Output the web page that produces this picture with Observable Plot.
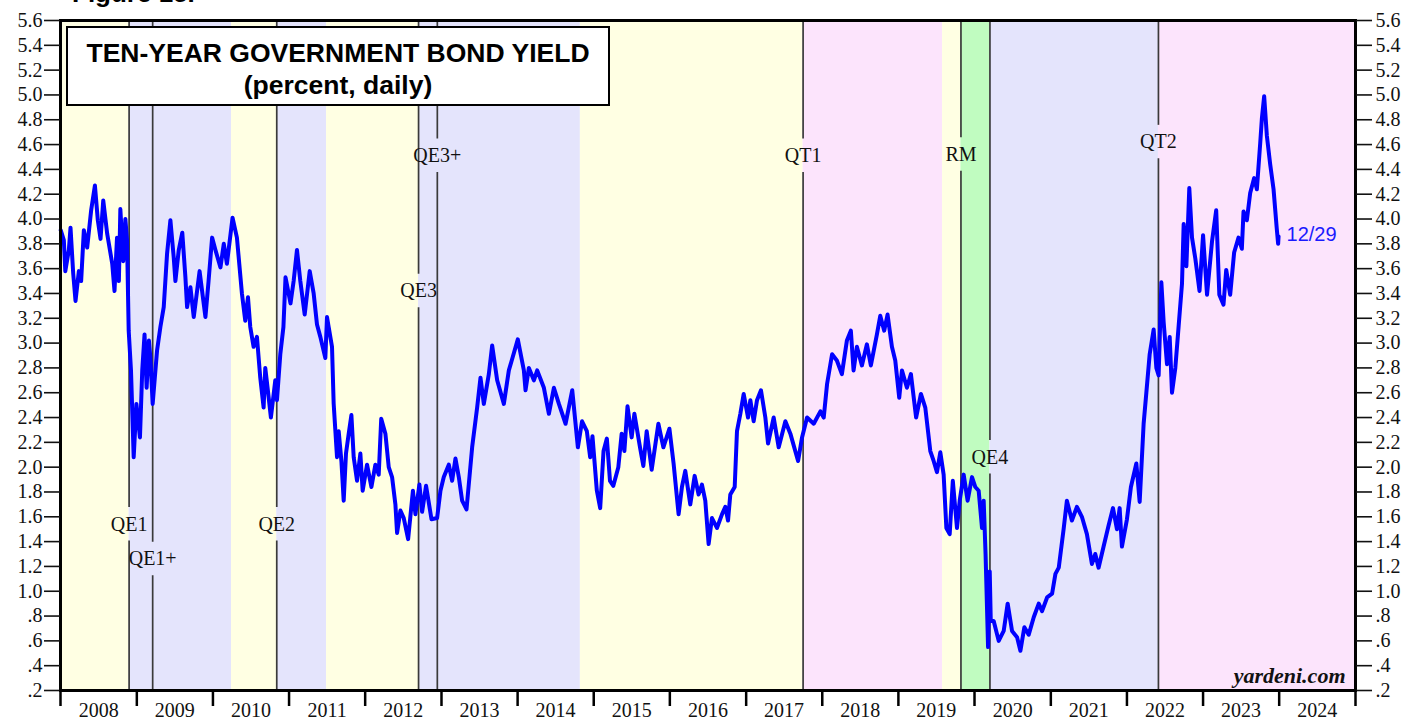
<!DOCTYPE html>
<html><head><meta charset="utf-8">
<script src="https://cdn.jsdelivr.net/npm/d3@7"></script>
<script src="https://cdn.jsdelivr.net/npm/@observablehq/plot@0.6"></script>
<style>
html,body{margin:0;padding:0;background:#fff;overflow:hidden}
#wrap{position:relative;width:1408px;height:719px}
#fig{position:absolute;left:72px;top:-20px;font:bold 26px "Liberation Sans",Arial,sans-serif;line-height:26px;white-space:nowrap;color:#000}
#titlebox{position:absolute;left:66px;top:26px;width:540px;height:67px;padding-top:9px;border:2px solid #000;background:#fff;font:bold 26.5px "Liberation Sans",Arial,sans-serif;text-align:center;line-height:32px;color:#000}
</style></head>
<body><div id="wrap"><div id="chart"></div><div id="fig">Figure 15.</div><div id="titlebox">TEN-YEAR GOVERNMENT BOND YIELD<br>(percent, daily)</div></div>
<script>
const dates = [
"2008-01-02","2008-01-17","2008-01-24","2008-02-10","2008-02-18","2008-03-02","2008-03-13","2008-03-29","2008-04-09","2008-04-22",
"2008-05-08","2008-05-27","2008-06-14","2008-06-28","2008-07-11","2008-07-24","2008-08-12","2008-09-05","2008-09-16","2008-09-28",
"2008-10-07","2008-10-14","2008-10-28","2008-11-07","2008-11-15","2008-11-23","2008-12-04","2008-12-17","2008-12-30","2009-01-16",
"2009-01-27","2009-02-07","2009-02-17","2009-02-28","2009-03-07","2009-03-18","2009-04-08","2009-04-24","2009-05-10","2009-05-26",
"2009-06-11","2009-06-27","2009-07-05","2009-07-21","2009-08-07","2009-08-22","2009-08-30","2009-09-15","2009-10-01","2009-10-29",
"2009-11-10","2009-11-26","2009-12-11","2009-12-28","2010-01-13","2010-02-06","2010-02-22","2010-03-09","2010-04-05","2010-04-26",
"2010-05-20","2010-06-05","2010-06-18","2010-06-29","2010-07-15","2010-07-31","2010-08-16","2010-09-01","2010-09-09","2010-09-20",
"2010-10-06","2010-10-27","2010-11-04","2010-11-20","2010-12-05","2010-12-15","2011-01-08","2011-01-23","2011-02-08","2011-02-24",
"2011-03-17","2011-04-10","2011-04-29","2011-05-15","2011-05-31","2011-06-24","2011-07-02","2011-07-10","2011-07-26","2011-08-03",
"2011-08-19","2011-08-27","2011-09-09","2011-09-20","2011-10-01","2011-10-14","2011-10-27","2011-11-07","2011-11-23","2011-12-09",
"2011-12-20","2012-01-10","2012-01-31","2012-02-19","2012-03-06","2012-03-18","2012-04-07","2012-04-23","2012-05-09","2012-05-25",
"2012-06-02","2012-06-18","2012-07-04","2012-07-25","2012-08-17","2012-08-29","2012-09-17","2012-09-30","2012-10-19","2012-11-14",
"2012-12-11","2012-12-27","2013-01-12","2013-02-05","2013-02-21","2013-03-09","2013-03-25","2013-04-10","2013-05-01","2013-05-28",
"2013-06-21","2013-07-07","2013-07-23","2013-08-16","2013-09-01","2013-09-25","2013-10-27","2013-11-20","2013-12-09","2014-01-02",
"2014-01-31","2014-02-08","2014-02-24","2014-03-20","2014-04-05","2014-05-07","2014-05-31","2014-06-24","2014-07-18","2014-08-19",
"2014-09-20","2014-10-17","2014-11-06","2014-11-29","2014-12-15","2014-12-26","2015-01-16","2015-02-01","2015-02-17","2015-03-05",
"2015-03-20","2015-04-05","2015-04-29","2015-05-15","2015-05-28","2015-06-12","2015-07-02","2015-07-15","2015-08-11","2015-08-27",
"2015-09-12","2015-10-06","2015-11-07","2015-12-01","2015-12-30","2016-01-19","2016-02-12","2016-02-28","2016-03-15","2016-04-08",
"2016-04-29","2016-05-18","2016-06-03","2016-06-19","2016-07-05","2016-07-21","2016-08-14","2016-09-07","2016-09-23","2016-10-06",
"2016-10-17","2016-11-07","2016-11-18","2016-12-04","2016-12-20","2017-01-10","2017-01-21","2017-02-06","2017-02-22","2017-03-13",
"2017-04-03","2017-04-16","2017-05-13","2017-06-06","2017-07-08","2017-08-01","2017-09-07","2017-09-26","2017-10-20","2017-11-21",
"2017-12-23","2018-01-08","2018-01-24","2018-02-17","2018-03-12","2018-04-05","2018-04-29","2018-05-18","2018-05-31","2018-06-16",
"2018-07-10","2018-08-03","2018-08-22","2018-09-20","2018-10-06","2018-10-25","2018-11-10","2018-12-01","2018-12-17","2019-01-05",
"2019-01-18","2019-02-11","2019-03-02","2019-03-27","2019-04-19","2019-05-10","2019-06-03","2019-06-19","2019-07-05","2019-07-21",
"2019-08-06","2019-08-19","2019-09-04","2019-09-19","2019-10-09","2019-10-22","2019-11-10","2019-11-29","2019-12-20","2020-01-05",
"2020-01-21","2020-02-06","2020-02-14","2020-02-23","2020-03-06","2020-03-14","2020-03-19","2020-04-02","2020-04-26","2020-05-20",
"2020-06-08","2020-06-29","2020-07-23","2020-08-08","2020-08-27","2020-09-17","2020-10-11","2020-11-04","2020-11-20","2020-12-14",
"2021-01-07","2021-01-23","2021-02-08","2021-03-04","2021-03-19","2021-04-12","2021-05-06","2021-05-30","2021-06-23","2021-07-17",
"2021-08-02","2021-08-18","2021-09-11","2021-10-05","2021-10-26","2021-11-14","2021-11-27","2021-12-08","2022-01-01","2022-01-20",
"2022-02-15","2022-03-03","2022-03-22","2022-04-04","2022-04-20","2022-05-09","2022-05-22","2022-06-02","2022-06-15","2022-06-26",
"2022-07-12","2022-07-25","2022-08-05","2022-08-21","2022-09-06","2022-09-22","2022-09-30","2022-10-13","2022-10-27","2022-11-09",
"2022-11-25","2022-12-15","2023-01-01","2023-01-20","2023-02-13","2023-03-05","2023-03-20","2023-04-09","2023-04-22","2023-05-11",
"2023-05-30","2023-06-20","2023-07-06","2023-07-14","2023-07-30","2023-08-15","2023-09-03","2023-09-16","2023-10-02","2023-10-10",
"2023-10-21","2023-11-03","2023-11-19","2023-12-05","2023-12-20","2023-12-27","2023-12-29"
];
const yields = [
3.91,3.83,3.58,3.75,3.93,3.56,3.34,3.58,3.50,3.91,
3.77,4.07,4.27,3.99,3.84,4.15,3.88,3.64,3.42,3.85,
3.50,4.08,3.66,4.00,3.83,3.10,2.78,2.08,2.51,2.24,
2.78,3.07,2.64,3.02,2.88,2.51,2.94,3.13,3.29,3.72,
3.99,3.69,3.50,3.75,3.89,3.53,3.29,3.45,3.21,3.58,
3.42,3.21,3.50,3.85,3.75,3.61,3.80,3.64,4.01,3.85,
3.40,3.18,3.37,3.13,2.97,3.05,2.72,2.48,2.80,2.64,
2.40,2.70,2.54,2.91,3.13,3.53,3.32,3.50,3.75,3.50,
3.23,3.58,3.40,3.15,3.05,2.88,3.21,3.13,2.97,2.51,
2.08,2.29,2.05,1.73,2.11,2.27,2.42,2.08,1.89,2.11,
1.81,2.02,1.84,2.02,1.94,2.39,2.27,2.00,1.92,1.70,
1.47,1.65,1.59,1.42,1.81,1.62,1.86,1.64,1.85,1.58,
1.59,1.81,1.92,2.02,1.89,2.07,1.92,1.73,1.66,2.16,
2.48,2.72,2.51,2.75,2.98,2.70,2.51,2.78,2.89,3.03,
2.78,2.62,2.80,2.70,2.78,2.64,2.43,2.64,2.51,2.35,
2.62,2.16,2.37,2.29,2.08,2.25,1.81,1.67,2.13,2.23,
1.89,1.85,2.00,2.27,2.13,2.49,2.24,2.43,2.16,2.01,
2.29,1.98,2.35,2.16,2.31,2.03,1.62,1.84,1.97,1.70,
1.93,1.78,1.86,1.73,1.38,1.59,1.51,1.62,1.68,1.57,
1.78,1.84,2.29,2.43,2.59,2.40,2.54,2.37,2.54,2.62,
2.40,2.19,2.40,2.16,2.37,2.27,2.05,2.24,2.40,2.35,
2.45,2.40,2.67,2.91,2.86,2.75,3.02,3.10,2.78,2.97,
2.82,2.99,2.82,3.07,3.22,3.10,3.23,2.97,2.86,2.56,
2.78,2.64,2.75,2.40,2.59,2.48,2.13,2.05,1.96,2.12,
1.94,1.51,1.46,1.89,1.51,1.73,1.94,1.73,1.92,1.84,
1.81,1.51,1.73,1.30,0.55,1.16,0.76,0.76,0.60,0.68,
0.90,0.68,0.63,0.52,0.71,0.65,0.79,0.90,0.84,0.95,
0.98,1.14,1.19,1.51,1.73,1.57,1.68,1.60,1.46,1.22,
1.30,1.19,1.36,1.53,1.67,1.50,1.67,1.36,1.58,1.84,
2.03,1.72,2.35,2.60,2.91,3.11,2.80,2.74,3.49,3.17,
2.83,3.05,2.60,2.80,3.14,3.48,3.96,3.62,4.25,3.85,
3.68,3.42,3.87,3.39,3.82,4.07,3.39,3.31,3.59,3.39,
3.73,3.85,3.76,4.06,3.99,4.21,4.33,4.24,4.61,4.81,
4.99,4.67,4.44,4.24,3.93,3.80,3.86
];
const bandStarts = ["2008-01-01","2008-11-25","2010-03-31","2010-11-03","2011-06-30","2012-09-13","2014-10-29","2017-10-01","2019-08-01","2019-10-28","2020-03-15","2022-06-01"];
const bandEnds   = ["2008-11-25","2010-03-31","2010-11-03","2011-06-30","2012-09-13","2014-10-29","2017-10-01","2019-08-01","2019-10-28","2020-03-15","2022-06-01","2025-01-01"];
const bandColors = ["#ffffe3","#e4e4fc","#ffffe3","#e4e4fc","#ffffe3","#e4e4fc","#ffffe3","#fce4fc","#ffffe3","#c0fcc0","#e4e4fc","#fce4fc"];
const eventNames = ["QE1","QE1+","QE2","QE3","QE3+","QT1","RM","QE4","QT2"];
const eventDates = ["2008-11-25","2009-03-18","2010-11-03","2012-09-13","2012-12-12","2017-10-01","2019-10-28","2020-03-15","2022-06-01"];
const eventLabelY = [1.54,1.26,1.54,3.42,4.51,4.51,4.52,2.08,4.62];
const yTicks = d3.range(2, 57, 2).map(v => v / 10);
const yearLabels = d3.range(2008, 2025);

const parse = s => new Date(s + "T00:00:00Z");
const series = dates.map((d, i) => ({date: parse(d), value: yields[i]}));
const bands = bandStarts.map((s, i) => ({start: parse(s), end: parse(bandEnds[i]), color: bandColors[i]}));
const events = eventNames.map((n, i) => ({name: n, date: parse(eventDates[i]), labelY: eventLabelY[i]}));
const gap = 0.135;
const segments = events.flatMap(e => [
  {date: e.date, y1: 0.2, y2: e.labelY - gap},
  {date: e.date, y1: e.labelY + gap, y2: 5.6}
]);
const yearStarts = d3.range(2008, 2026).map(y => new Date(Date.UTC(y, 0, 1)));
const yearMids = yearLabels.map(y => new Date(Date.UTC(y, 6, 2)));
const fmt = v => v < 1 ? "." + Math.round(v * 10) : v.toFixed(1);
const last = series[series.length - 1];

const chart = Plot.plot({
  width: 1408, height: 719,
  marginLeft: 60, marginRight: 53, marginTop: 20, marginBottom: 29,
  x: {type: "utc", domain: [parse("2008-01-01"), parse("2025-01-01")], axis: null},
  y: {domain: [0.2, 5.6], axis: null},
  color: {type: "identity"},
  style: {fontFamily: "'Liberation Serif', 'Times New Roman', serif", background: "transparent", overflow: "visible"},
  marks: [
    Plot.rect(bands, {x1: "start", x2: "end", fill: "color"}),
    Plot.ruleX(segments, {x: "date", y1: "y1", y2: "y2", stroke: "#3a3a3a", strokeWidth: 1.7}),
    Plot.text(events, {x: "date", y: "labelY", text: "name", fontSize: 20, fill: "#111"}),
    Plot.line(series, {x: "date", y: "value", stroke: "#0000ff", strokeWidth: 4, strokeLinejoin: "round", strokeLinecap: "round"}),
    Plot.text([last], {x: "date", y: "value", text: () => "12/29", dx: 8, dy: -2, textAnchor: "start", fill: "#1a1aff", fontSize: 20, fontFamily: "'Liberation Sans', Arial, sans-serif"}),
    Plot.text(["yardeni.com"], {frameAnchor: "bottom-right", text: d => d, dx: -10, dy: -8, lineAnchor: "bottom", textAnchor: "end", fontSize: 22, fontWeight: "bold", fontStyle: "italic", fill: "#111"}),
    Plot.frame({stroke: "#000", strokeWidth: 3}),
    Plot.axisY(yTicks, {anchor: "left", tickSize: 16, tickPadding: 2, tickFormat: fmt, fontSize: 20, color: "#111", strokeWidth: 1.6, label: null}),
    Plot.axisY(yTicks, {anchor: "right", tickSize: 16, tickPadding: 4, tickFormat: fmt, fontSize: 20, color: "#111", strokeWidth: 1.6, label: null}),
    Plot.axisX(yearStarts, {anchor: "bottom", tickSize: 16, tickFormat: () => "", color: "#000", strokeWidth: 2.5, label: null}),
    Plot.text(yearMids, {x: d => d, text: d => String(d.getUTCFullYear()), frameAnchor: "bottom", dy: 26, fontSize: 20, fill: "#111"})
  ]
});
document.getElementById("chart").appendChild(chart);
</script>
</body></html>
